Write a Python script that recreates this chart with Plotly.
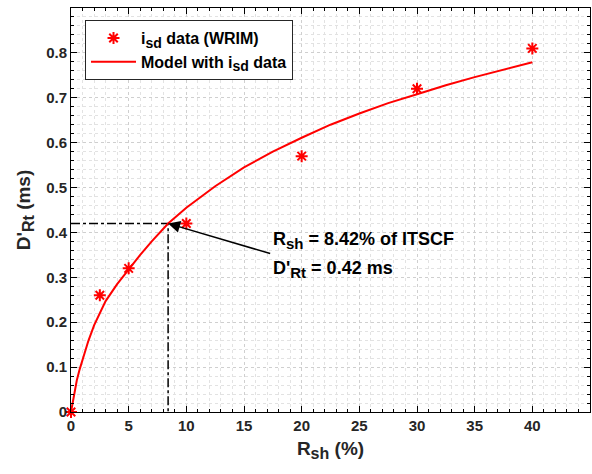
import plotly.graph_objects as go

# measured data (WRIM)
r_data = [0, 2.5, 5, 10, 20, 30, 40]
d_data = [0, 0.26, 0.32, 0.42, 0.57, 0.72, 0.81]

# model curve
r_model = [0, 0.25, 0.5, 0.75, 1, 1.5, 2, 2.5, 3, 4, 5, 6, 7, 8.42, 10, 12.5, 15,
           17.5, 20, 22.5, 25, 27.5, 30, 32.5, 35, 37.5, 40]
d_model = [0, 0.04, 0.07, 0.095, 0.118, 0.158, 0.193, 0.222, 0.247, 0.285, 0.318,
           0.35, 0.38, 0.42, 0.455, 0.503, 0.545, 0.58, 0.611, 0.64, 0.665, 0.688,
           0.708, 0.728, 0.746, 0.763, 0.779]

# operating point
r_op = 8.42
d_op = 0.42

x_ticks = [0, 5, 10, 15, 20, 25, 30, 35, 40]
y_ticks = [0, 0.1, 0.2, 0.3, 0.4, 0.5, 0.6, 0.7, 0.8]

FONT = "Liberation Sans, Arial, sans-serif"


def sub(t, px):
    return f"<sub><span style='font-size:{px}px'>{t}</span></sub>"


fig = go.Figure()

fig.add_trace(go.Scatter(
    x=[0, r_op, r_op], y=[d_op, d_op, 0], mode="lines",
    line=dict(color="black", width=1.5, dash="dashdot"),
    showlegend=False, hoverinfo="skip"))

fig.add_trace(go.Scatter(
    x=r_data, y=d_data, mode="markers",
    name=f"<b>i{sub('sd', 14)} data (WRIM)</b>",
    marker=dict(symbol="asterisk-open", size=10, color="red",
                line=dict(color="red", width=2)),
    cliponaxis=False))

fig.add_trace(go.Scatter(
    x=r_model, y=d_model, mode="lines",
    name=f"<b>Model with i{sub('sd', 14)} data</b>",
    line=dict(color="red", width=2)))

# arrow
fig.add_annotation(x=r_op, y=d_op, ax=17.4, ay=0.352, xref="x", yref="y",
                   axref="x", ayref="y", text="", showarrow=True,
                   arrowhead=2, arrowsize=1.6, arrowwidth=1.5, arrowcolor="black",
                   standoff=0)
fig.add_annotation(x=17.3, y=0.382, xref="x", yref="y", xanchor="left",
                   yanchor="middle", showarrow=False,
                   text=f"<b>R{sub('sh', 15)} = 8.42% of ITSCF</b>",
                   font=dict(size=18, color="black", family=FONT))
fig.add_annotation(x=17.3, y=0.318, xref="x", yref="y", xanchor="left",
                   yanchor="middle", showarrow=False,
                   text=f"<b>D'{sub('Rt', 15)} = 0.42 ms</b>",
                   font=dict(size=18, color="black", family=FONT))

axis_common = dict(
    showline=True, linecolor="black", linewidth=1, mirror="ticks",
    ticks="inside", ticklen=6, tickcolor="black", tickwidth=1,
    showgrid=True, gridcolor="#cfcfcf", griddash="dot", gridwidth=1,
    zeroline=False,
    tickfont=dict(size=15, color="#262626", family=FONT),
)

fig.update_xaxes(
    range=[0, 45], tickvals=x_ticks, ticktext=[f"<b>{v}</b>" for v in x_ticks],
    title=dict(text=f"<b>R{sub('sh', 16)} (%)</b>", font=dict(size=19, color="#262626", family=FONT), standoff=8),
    minor=dict(dtick=1, ticks="inside", ticklen=3, tickcolor="black",
               showgrid=True, gridcolor="#e2e2e2", griddash="dot"),
    **axis_common)
fig.update_yaxes(
    range=[0, 0.9], tickvals=y_ticks, ticktext=[f"<b>{v:g}</b>" for v in y_ticks],
    title=dict(text=f"<b>D'{sub('Rt', 16)} (ms)</b>", font=dict(size=19, color="#262626", family=FONT), standoff=10),
    minor=dict(dtick=0.02, ticks="inside", ticklen=3, tickcolor="black",
               showgrid=True, gridcolor="#e2e2e2", griddash="dot"),
    **axis_common)

fig.update_layout(
    width=592, height=474,
    margin=dict(l=71, r=2, t=8, b=62),
    plot_bgcolor="white", paper_bgcolor="white",
    font=dict(family=FONT, color="black"),
    legend=dict(x=0.027, y=0.97, xanchor="left", yanchor="top",
                bgcolor="white", bordercolor="#262626", borderwidth=1,
                font=dict(size=16, color="black", family=FONT),
                itemwidth=45, tracegroupgap=4),
)

fig.write_html("out.html")
